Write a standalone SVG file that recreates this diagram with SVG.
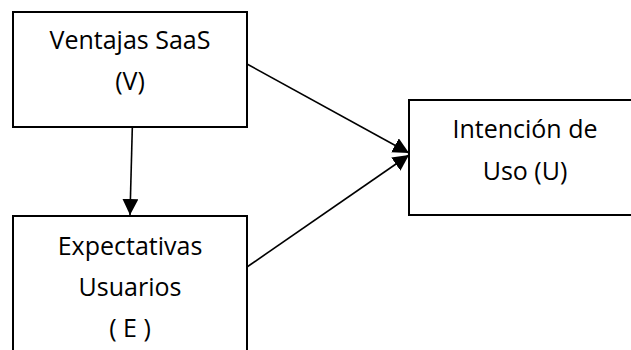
<svg xmlns="http://www.w3.org/2000/svg" width="631" height="350" viewBox="0 0 631 350">
  <style>
    .box { fill: #ffffff; stroke: #000000; stroke-width: 2; }
    .lbl { font-family: "Open Sans", "Noto Sans", sans-serif; font-size: 25px; fill: #000000; text-anchor: middle; }
    .link { fill: none; stroke: #000000; stroke-width: 1.6; }
  </style>
  <defs>
    <marker id="head" markerUnits="userSpaceOnUse" markerWidth="16" markerHeight="16" viewBox="0 0 16 16" refX="16" refY="8" orient="auto">
      <path d="M0,0 L16,8 L0,16 Z" fill="#000000"/>
    </marker>
  </defs>

  <rect width="631" height="350" fill="#ffffff"/>

  <g id="node-v">
    <rect class="box" x="13" y="12" width="234" height="115"/>
    <text class="lbl" x="130" y="49">Ventajas SaaS</text>
    <text class="lbl" x="130" y="90">(V)</text>
  </g>

  <g id="node-e">
    <rect class="box" x="13" y="216" width="234" height="150"/>
    <text class="lbl" x="130" y="255">Expectativas</text>
    <text class="lbl" x="130" y="296">Usuarios</text>
    <text class="lbl" x="130" y="337">( E )</text>
  </g>

  <g id="node-u">
    <rect class="box" x="409" y="100" width="240" height="115"/>
    <text class="lbl" x="525" y="138">Intención de</text>
    <text class="lbl" x="525" y="180">Uso (U)</text>
  </g>

  <g id="connectors">
    <line class="link" x1="132.3" y1="128" x2="130" y2="215" marker-end="url(#head)"/>
    <line class="link" x1="247" y1="64" x2="409" y2="153" marker-end="url(#head)"/>
    <line class="link" x1="247" y1="267" x2="409" y2="155" marker-end="url(#head)"/>
  </g>
</svg>
